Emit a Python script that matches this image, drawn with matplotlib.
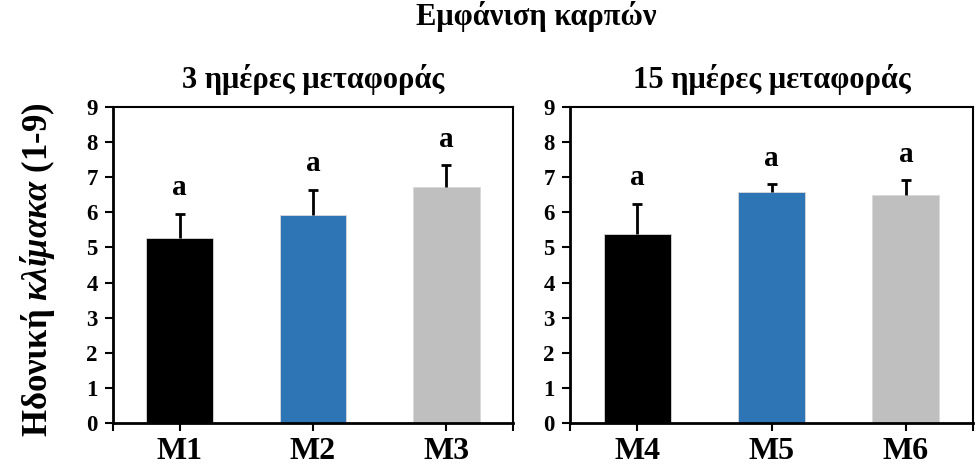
import matplotlib
matplotlib.use("Agg")
import matplotlib.pyplot as plt
import numpy as np

plt.rcParams['font.family'] = ['Liberation Serif', 'DejaVu Serif']
plt.rcParams['font.weight'] = 'bold'
plt.rcParams['mathtext.fontset'] = 'custom'
plt.rcParams['mathtext.rm'] = 'Liberation Serif:bold'
plt.rcParams['mathtext.it'] = 'Liberation Serif:italic:bold'
plt.rcParams['mathtext.bf'] = 'Liberation Serif:bold'

title = "Εμφάνιση καρπών"
panel_titles = ["3 ημέρες μεταφοράς", "15 ημέρες μεταφοράς"]
cats_left = ["M1", "M2", "M3"]
cats_right = ["M4", "M5", "M6"]
vals_left = [5.28, 5.91, 6.73]
vals_right = [5.38, 6.57, 6.50]
err_left = [0.67, 0.74, 0.61]
err_right = [0.87, 0.23, 0.41]
letters_left = ["a", "a", "a"]
letters_right = ["a", "a", "a"]
colors = ["#000000", "#2E75B6", "#BFBFBF"]
yticks = list(range(0, 10))
ylabel = r"Ηδονική $\mathit{κλίμακα}$ (1-9)"

fig = plt.figure(figsize=(9.77, 4.69), dpi=100)
W, H = 977, 469
ax1 = fig.add_axes([113 / W, 1 - 423 / H, 400 / W, 316 / H])
ax2 = fig.add_axes([570 / W, 1 - 423 / H, 403 / W, 316 / H])

for ax, cats, vals, errs, lets, pt in [
    (ax1, cats_left, vals_left, err_left, letters_left, panel_titles[0]),
    (ax2, cats_right, vals_right, err_right, letters_right, panel_titles[1]),
]:
    x = np.arange(len(cats))
    vals = np.array(vals)
    errs = np.array(errs)
    ax.bar(x, vals, width=0.5, color=colors, edgecolor="#D9D9D9", linewidth=0.6, zorder=2)
    ax.vlines(x, vals, vals + errs, colors="black", linewidth=2.0, zorder=3)
    ax.plot(x, vals + errs, linestyle="none", marker="_", markersize=7,
            markeredgewidth=2.0, color="black", zorder=3)
    for xi, v, e, l in zip(x, vals, errs, lets):
        ax.text(xi, v + e + 0.53, l, ha="center", va="baseline", fontsize=21, fontweight="bold")
    ax.set_xlim(-0.5, len(cats) - 0.5)
    ax.set_ylim(0, 9)
    ax.set_yticks(yticks)
    ax.set_xticks(x)
    ax.set_xticklabels(cats, fontsize=23, fontweight="bold")
    ax.set_xticks([-0.5, len(cats) - 0.5], minor=True)
    ax.tick_params(axis="x", which="both", direction="out", length=6, width=1.5, pad=4)
    ax.tick_params(axis="y", direction="out", length=6, width=1.5, labelsize=16.5, pad=5)
    for lab in ax.get_yticklabels():
        lab.set_fontweight("bold")
    for s in ["left", "bottom"]:
        ax.spines[s].set_linewidth(2.0)
    for s in ["top", "right"]:
        ax.spines[s].set_linewidth(1.5)
    bb = ax.get_position()
    fig.text((bb.x0 + bb.x1) / 2, 1 - 88 / H, pt, ha="center", va="baseline",
             fontsize=22, fontweight="bold")

fig.text(38 / W, 1 - 270 / H, ylabel, rotation=90, ha="center", va="center",
         fontsize=25, fontweight="bold")
fig.text(536 / W, 1 - 25 / H, title, ha="center", va="baseline", fontsize=22, fontweight="bold")

fig.savefig("out.png", dpi=100)
